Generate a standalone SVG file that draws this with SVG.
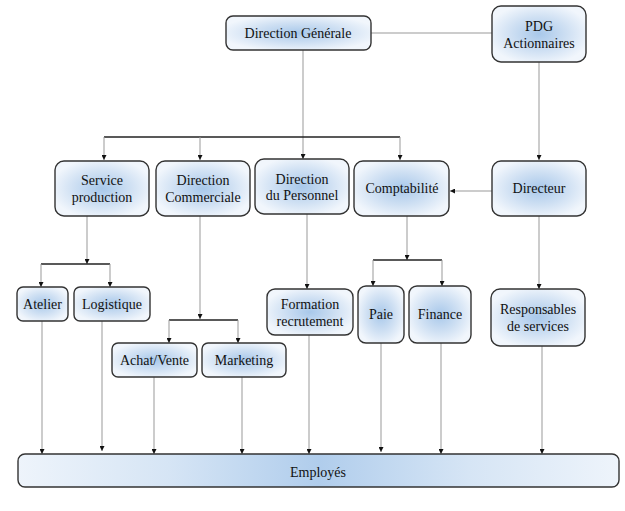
<svg xmlns="http://www.w3.org/2000/svg" width="625" height="511" viewBox="0 0 625 511">
<defs>
<radialGradient id="g" cx="0.5" cy="0.5" r="0.55">
<stop offset="0" stop-color="#a8c8ea"/>
<stop offset="0.55" stop-color="#cfe0f3"/>
<stop offset="1" stop-color="#f1f6fc"/>
</radialGradient>
<linearGradient id="ge" x1="0" y1="0" x2="1" y2="0">
<stop offset="0" stop-color="#eef4fb"/>
<stop offset="0.25" stop-color="#d6e5f5"/>
<stop offset="0.5" stop-color="#b0cdec"/>
<stop offset="0.75" stop-color="#d6e5f5"/>
<stop offset="1" stop-color="#eef4fb"/>
</linearGradient>
<marker id="a" viewBox="0 0 6 6" refX="6" refY="3" markerWidth="5" markerHeight="5" markerUnits="userSpaceOnUse" orient="auto">
<path d="M0,0 L6,3 L0,6 z" fill="#111"/>
</marker>
</defs>
<style>
.n rect{fill:url(#g);stroke:#333;stroke-width:1.4}
.n text{font-size:14px;fill:#111;text-anchor:middle}
.c line{stroke:#999;stroke-width:1;fill:none}
.c line.a{marker-end:url(#a)}
.c line.b{stroke:#222;stroke-width:1.3}
</style>
<g class="c" id="connectors">
<line x1="371" y1="33" x2="492" y2="33"/>
<line class="a" x1="303" y1="50" x2="303" y2="159"/>
<line class="b" x1="104" y1="137" x2="400" y2="137"/>
<line class="a" x1="104" y1="137" x2="104" y2="160"/>
<line class="a" x1="200" y1="137" x2="200" y2="160"/>
<line class="a" x1="400" y1="137" x2="400" y2="160"/>
<line class="a" x1="539" y1="62" x2="539" y2="160"/>
<line class="a" x1="492" y1="191" x2="450" y2="191"/>
<line class="a" x1="87" y1="216" x2="87" y2="264"/>
<line class="b" x1="41" y1="264" x2="110" y2="264"/>
<line class="a" x1="41" y1="264" x2="41" y2="287"/>
<line class="a" x1="110" y1="264" x2="110" y2="287"/>
<line class="a" x1="200" y1="216" x2="200" y2="319"/>
<line class="b" x1="169" y1="320" x2="238" y2="320"/>
<line class="a" x1="169" y1="320" x2="169" y2="343"/>
<line class="a" x1="238" y1="320" x2="238" y2="343"/>
<line class="a" x1="307" y1="214" x2="307" y2="289"/>
<line class="a" x1="407" y1="216" x2="407" y2="260"/>
<line class="b" x1="373" y1="260" x2="442" y2="260"/>
<line class="a" x1="373" y1="260" x2="373" y2="286"/>
<line class="a" x1="442" y1="260" x2="442" y2="286"/>
<line class="a" x1="539" y1="216" x2="539" y2="289"/>
<line class="a" x1="42" y1="321" x2="42" y2="454"/>
<line class="a" x1="102" y1="321" x2="102" y2="451"/>
<line class="a" x1="154" y1="377" x2="154" y2="454"/>
<line class="a" x1="242" y1="377" x2="242" y2="454"/>
<line class="a" x1="309" y1="335" x2="309" y2="454"/>
<line class="a" x1="381" y1="343" x2="381" y2="452"/>
<line class="a" x1="441" y1="343" x2="441" y2="454"/>
<line class="a" x1="542" y1="346" x2="542" y2="454"/>
</g>
<g font-family="Liberation Serif, DejaVu Serif, serif">
<g class="n" id="direction-generale"><rect x="226" y="16" width="145" height="34" rx="7"/><text x="298" y="38">Direction Générale</text></g>
<g class="n" id="pdg"><rect x="492" y="6" width="94" height="56" rx="9"/><text x="539" y="31">PDG</text><text x="539" y="48">Actionnaires</text></g>
<g class="n" id="service-production"><rect x="55" y="161" width="94" height="55" rx="9"/><text x="102" y="185">Service</text><text x="102" y="202">production</text></g>
<g class="n" id="direction-commerciale"><rect x="156" y="161" width="94" height="55" rx="9"/><text x="203" y="185">Direction</text><text x="203" y="202">Commerciale</text></g>
<g class="n" id="direction-personnel"><rect x="255" y="159" width="94" height="55" rx="9"/><text x="302" y="184">Direction</text><text x="302" y="200">du Personnel</text></g>
<g class="n" id="comptabilite"><rect x="354" y="161" width="95" height="55" rx="9"/><text x="402" y="193">Comptabilité</text></g>
<g class="n" id="directeur"><rect x="492" y="161" width="94" height="55" rx="9"/><text x="539" y="193">Directeur</text></g>
<g class="n" id="atelier"><rect x="17" y="287" width="51" height="34" rx="6"/><text x="42.5" y="309">Atelier</text></g>
<g class="n" id="logistique"><rect x="74" y="287" width="76" height="34" rx="6"/><text x="112" y="309">Logistique</text></g>
<g class="n" id="achat-vente"><rect x="112" y="343" width="85" height="34" rx="6"/><text x="154.5" y="365">Achat/Vente</text></g>
<g class="n" id="marketing"><rect x="202" y="343" width="84" height="34" rx="6"/><text x="244" y="365">Marketing</text></g>
<g class="n" id="formation"><rect x="267" y="289" width="86" height="46" rx="8"/><text x="310" y="309">Formation</text><text x="310" y="326">recrutement</text></g>
<g class="n" id="paie"><rect x="358" y="286" width="46" height="57" rx="8"/><text x="381" y="319">Paie</text></g>
<g class="n" id="finance"><rect x="409" y="286" width="62" height="57" rx="8"/><text x="440" y="319">Finance</text></g>
<g class="n" id="responsables"><rect x="491" y="289" width="94" height="57" rx="9"/><text x="538" y="314">Responsables</text><text x="538" y="331">de services</text></g>
<g class="n" id="employes"><rect x="18" y="454" width="601" height="33" rx="7" style="fill:url(#ge)"/><text x="318" y="477">Employés</text></g>
</g>
</svg>
